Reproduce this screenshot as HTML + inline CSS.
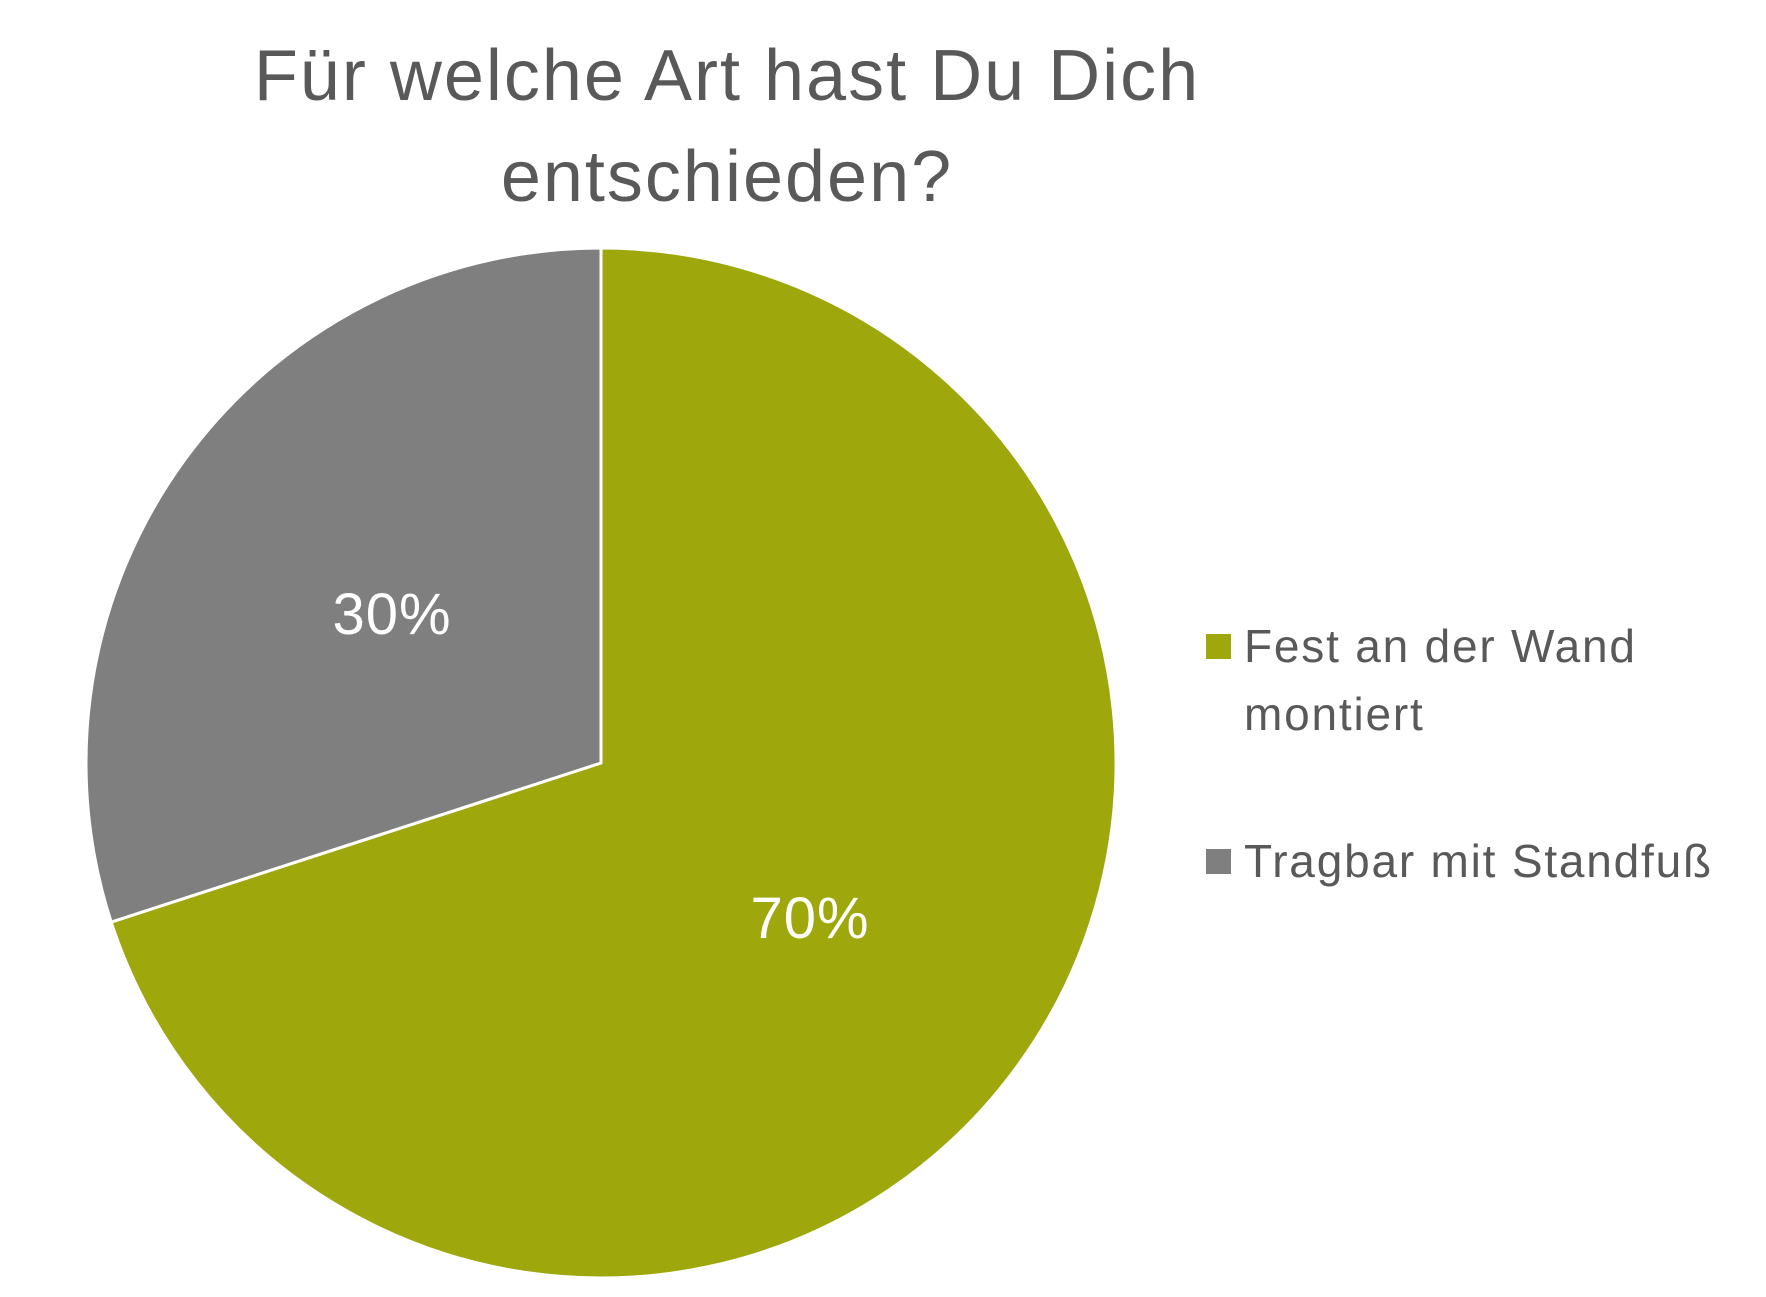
<!DOCTYPE html>
<html><head><meta charset="utf-8"><style>
html,body{margin:0;padding:0;background:#fff;}
svg{display:block;}
text{font-family:"Liberation Sans",sans-serif;}
</style></head><body>
<svg width="1766" height="1297" viewBox="0 0 1766 1297">
<rect width="1766" height="1297" fill="#fff"/>
<text x="727" y="100" font-size="72" letter-spacing="2" fill="#595959" text-anchor="middle">Für welche Art hast Du Dich</text>
<text x="727" y="201" font-size="72" letter-spacing="2" fill="#595959" text-anchor="middle">entschieden?</text>
<g stroke="#fff" stroke-width="3" stroke-linejoin="round">
<path d="M601,763 L601,248 A515,515 0 1 1 111.2,922.1 Z" fill="#9ea70b"/>
<path d="M601,763 L111.2,922.1 A515,515 0 0 1 601,248 Z" fill="#7f7f7f"/>
</g>
<text x="392" y="634" font-size="58" letter-spacing="1" fill="#fff" text-anchor="middle">30%</text>
<text x="810" y="938" font-size="58" letter-spacing="1" fill="#fff" text-anchor="middle">70%</text>
<rect x="1206" y="634" width="25" height="25" fill="#9ea70b"/>
<text x="1244" y="662" font-size="46" letter-spacing="1.8" fill="#595959">Fest an der Wand</text>
<text x="1244" y="730" font-size="46" letter-spacing="1.8" fill="#595959">montiert</text>
<rect x="1206" y="849" width="25" height="25" fill="#7f7f7f"/>
<text x="1244" y="877" font-size="46" letter-spacing="1.8" fill="#595959">Tragbar mit Standfuß</text>
</svg>
</body></html>
